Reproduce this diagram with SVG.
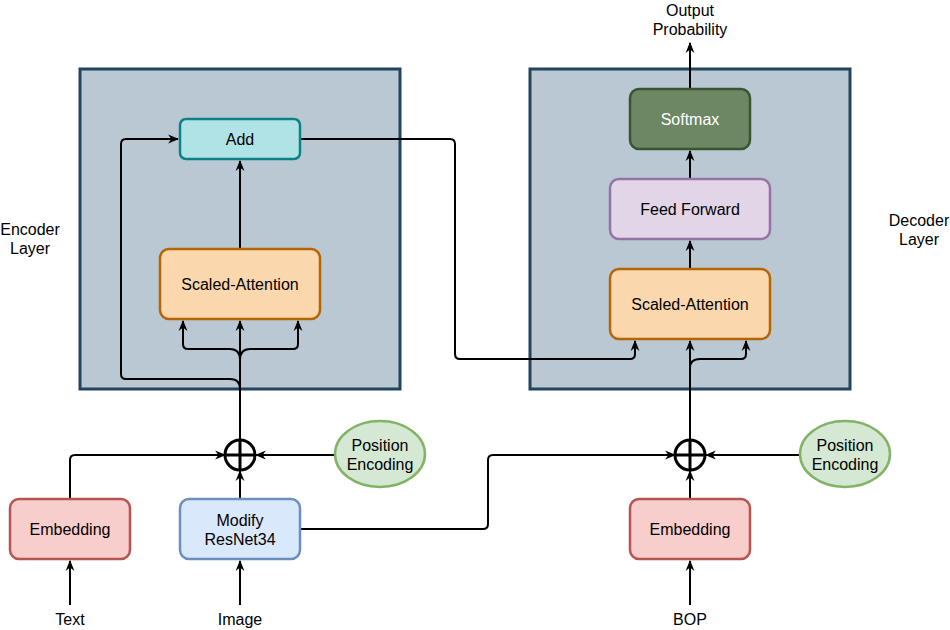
<svg xmlns="http://www.w3.org/2000/svg" width="950" height="630" viewBox="0 0 950 630">
<style>
text{font-family:"Liberation Sans",Arial,sans-serif;font-size:16px;fill:#000;text-anchor:middle}
.cont{fill:#bac8d3;stroke:#23445d;stroke-width:3}
.box{stroke-width:2.5}
.add{fill:#b0e3e6;stroke:#0e8088}
.att{fill:#fad7ac;stroke:#b46504}
.ff{fill:#e1d5e7;stroke:#9673a6}
.sm{fill:#6d8764;stroke:#3a5431}
.emb{fill:#f8cecc;stroke:#b85450}
.res{fill:#dae8fc;stroke:#6c8ebf}
.pe{fill:#d5e8d4;stroke:#82b366;stroke-width:2.5}
.plus{fill:none;stroke:#000;stroke-width:3}
.c{fill:none;stroke:#000;stroke-width:2;marker-end:url(#arr)}
</style>
<defs>
<marker id="arr" viewBox="0 0 10 10" refX="9" refY="5" markerWidth="11" markerHeight="11" markerUnits="userSpaceOnUse" orient="auto">
<path d="M0,1 L10,5 L0,9 L3,5 z" fill="#000"/>
</marker>
</defs>
<g id="encoder-layer"><rect class="cont" x="80" y="69" width="320" height="320"/></g>
<g id="decoder-layer"><rect class="cont" x="530" y="69" width="320" height="320"/></g>
<g id="connectors">
<path class="c" d="M70,605 V561"/>
<path class="c" d="M240,605 V561"/>
<path class="c" d="M690,605 V561"/>
<path class="c" d="M70,499 V460 Q70,455 75,455 H225"/>
<path class="c" d="M240,499 V471"/>
<path class="c" d="M335,455 H256"/>
<path class="c" d="M240,440 V321"/>
<path class="c" d="M240,360 Q240,349 230,349 H188 Q183,349 183,344 V321"/>
<path class="c" d="M240,360 Q240,349 250,349 H293 Q298,349 298,344 V321"/>
<path class="c" d="M240,440 V389 Q240,379 230,379 H126 Q121,379 121,374 V144 Q121,139 126,139 H178"/>
<path class="c" d="M240,249 V161"/>
<path class="c" d="M300,139 H450 Q455,139 455,144 V354 Q455,359 460,359 H630 Q635,359 635,354 V341"/>
<path class="c" d="M300,529 H483 Q488,529 488,524 V460 Q488,455 493,455 H675"/>
<path class="c" d="M690,499 V471"/>
<path class="c" d="M800,455 H706"/>
<path class="c" d="M690,440 V341"/>
<path class="c" d="M690,368 Q690,359 700,359 H741 Q746,359 746,354 V341"/>
<path class="c" d="M690,269 V241"/>
<path class="c" d="M690,179 V151"/>
<path class="c" d="M690,89 V43"/>
</g>
<g id="add"><rect class="box add" x="180" y="119" width="120" height="40" rx="6"/><text x="240" y="145">Add</text></g>
<g id="enc-attention"><rect class="box att" x="160" y="249" width="160" height="70" rx="9"/><text x="240" y="290">Scaled-Attention</text></g>
<g id="dec-attention"><rect class="box att" x="610" y="269" width="160" height="70" rx="9"/><text x="690" y="310">Scaled-Attention</text></g>
<g id="feed-forward"><rect class="box ff" x="610" y="179" width="160" height="60" rx="9"/><text x="690" y="215">Feed Forward</text></g>
<g id="softmax"><rect class="box sm" x="630" y="89" width="120" height="60" rx="9"/><text x="690" y="125" style="fill:#fff">Softmax</text></g>
<g id="enc-embedding"><rect class="box emb" x="10" y="499" width="120" height="60" rx="9"/><text x="70" y="535">Embedding</text></g>
<g id="resnet"><rect class="box res" x="180" y="499" width="120" height="60" rx="9"/><text x="240" y="526">Modify</text><text x="240" y="545">ResNet34</text></g>
<g id="dec-embedding"><rect class="box emb" x="630" y="499" width="120" height="60" rx="9"/><text x="690" y="535">Embedding</text></g>
<g id="enc-pos"><ellipse class="pe" cx="380" cy="454" rx="45" ry="33"/><text x="380" y="451">Position</text><text x="380" y="470">Encoding</text></g>
<g id="dec-pos"><ellipse class="pe" cx="845" cy="454" rx="45" ry="33"/><text x="845" y="451">Position</text><text x="845" y="470">Encoding</text></g>
<g id="enc-plus"><circle class="plus" cx="240" cy="455" r="15"/><path class="plus" d="M225,455 H255 M240,440 V470"/></g>
<g id="dec-plus"><circle class="plus" cx="690" cy="455" r="15"/><path class="plus" d="M675,455 H705 M690,440 V470"/></g>
<g id="labels">
<text x="690" y="16">Output</text><text x="690" y="35">Probability</text>
<text x="30" y="235">Encoder</text><text x="30" y="254">Layer</text>
<text x="919" y="226">Decoder</text><text x="919" y="245">Layer</text>
<text x="70" y="625">Text</text>
<text x="240" y="625">Image</text>
<text x="690" y="625">BOP</text>
</g>
</svg>
